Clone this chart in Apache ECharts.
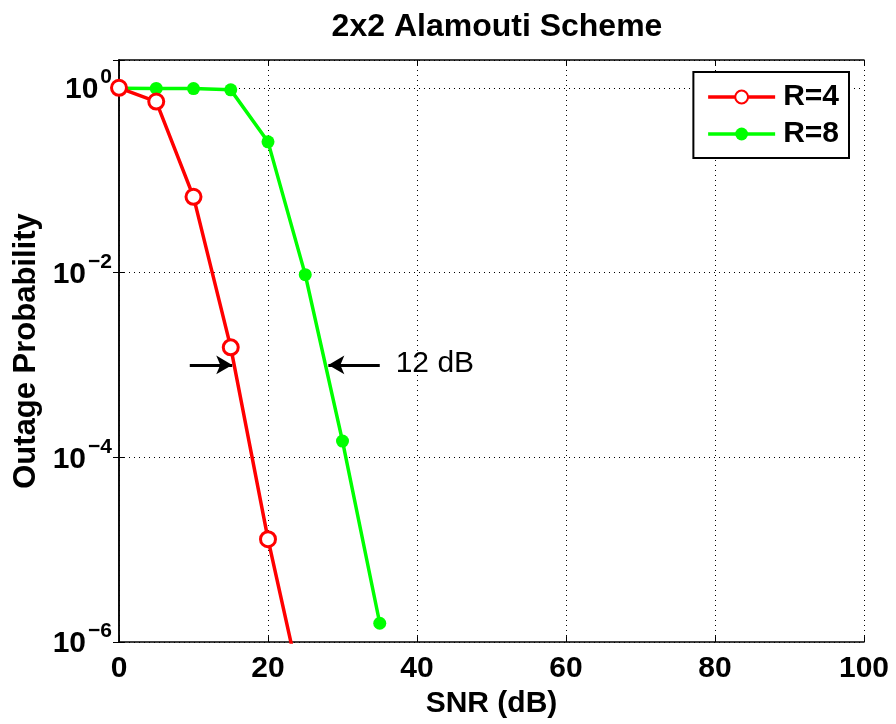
<!DOCTYPE html>
<html>
<head>
<meta charset="utf-8">
<script src="https://cdn.jsdelivr.net/npm/echarts@6/dist/echarts.min.js"></script>
<style>
  html, body { margin: 0; padding: 0; background: #fff; }
  #chart { width: 896px; height: 724px; }
</style>
</head>
<body>
<div id="chart"></div>
<script>
// SNR values (dB) and outage probabilities
const snrR4 = [0, 5, 10, 15, 20, 25]
const probR4 = [1.0, 0.71, 0.066, 0.00155, 1.3e-5, 2e-7]
const snrR8 = [0, 5, 10, 15, 20, 25, 30, 35]
const probR8 = [0.99, 0.985, 0.98, 0.95, 0.26, 0.0095, 1.5e-4, 1.6e-6]
const seriesNames = ['R=4', 'R=8']
// annotation: arrows at the 1e-3 level showing the 12 dB gap
const arrowLeft = [[9.5, 1e-3], [15.2, 1e-3]]
const arrowRight = [[35.0, 1e-3], [28.1, 1e-3]]
const gapLabel = { text: '12 dB', at: [42.4, 1.02e-3] }

const FONT = '"Liberation Sans", Arial, sans-serif'

const chart = echarts.init(document.getElementById('chart'))

function pairs (xs, ys) {
  return xs.map((x, i) => [x, ys[i]])
}

// 10 with a superscript exponent, like MATLAB log tick labels
function expLabel (v) {
  const e = Math.round(Math.log10(v))
  return '{b|10}{s|' + (e < 0 ? '\u2212' + (-e) : e) + '}'
}

const dotted = { show: true, lineStyle: { color: '#000', type: [1, 4], width: 1 } }
const boldText = { fontFamily: FONT, fontWeight: 'bold', fontSize: 30, color: '#000' }

const option = {
  backgroundColor: '#fff',
  animation: false,
  title: {
    text: '2x2 Alamouti Scheme',
    left: 492,
    textAlign: 'center',
    top: 6,
    textStyle: Object.assign({}, boldText, { fontSize: 32 })
  },
  grid: { left: 119, right: 32, top: 60, bottom: 80 },
  legend: {
    data: seriesNames,
    orient: 'vertical',
    right: 47,
    top: 72,
    padding: [10, 10, 9, 13],
    itemWidth: 67,
    itemHeight: 16,
    itemGap: 7,
    borderColor: '#000',
    borderWidth: 2,
    borderRadius: 0,
    backgroundColor: '#fff',
    lineStyle: { width: 3.5 },
    textStyle: Object.assign({}, boldText, { padding: [0, 0, 0, 3] })
  },
  xAxis: [{
    type: 'value',
    min: 0,
    max: 100,
    interval: 20,
    name: 'SNR (dB)',
    nameLocation: 'middle',
    nameGap: 46,
    nameTextStyle: boldText,
    axisLine: { onZero: false, lineStyle: { color: '#000', width: 1.5 } },
    axisTick: { inside: true, length: 6, lineStyle: { color: '#000' } },
    axisLabel: Object.assign({}, boldText, { margin: 12 }),
    splitLine: dotted
  }, {
    type: 'value',
    position: 'top',
    min: 0,
    max: 100,
    interval: 20,
    axisLine: { show: true, lineStyle: { color: '#000', width: 1.5 } },
    axisTick: { inside: true, length: 6, lineStyle: { color: '#000' } },
    axisLabel: { show: false },
    splitLine: { show: false }
  }],
  yAxis: [{
    type: 'log',
    logBase: 10,
    min: 1e-6,
    max: 2,
    interval: 2,
    name: 'Outage Probability',
    nameLocation: 'middle',
    nameGap: 76,
    nameTextStyle: Object.assign({}, boldText, { fontSize: 31 }),
    axisLine: { show: true, lineStyle: { color: '#000', width: 1.5 } },
    axisTick: { inside: true, length: 6, lineStyle: { color: '#000' } },
    axisLabel: {
      margin: 7,
      padding: [4, 0, 0, 0],
      formatter: function (v) {
        const e = Math.log10(v)
        if (Math.abs(e - Math.round(e)) > 1e-6) return ''
        return expLabel(v)
      },
      rich: {
        b: { fontFamily: FONT, fontWeight: 'bold', fontSize: 30, lineHeight: 30, color: '#000', verticalAlign: 'bottom' },
        s: { fontFamily: FONT, fontWeight: 'bold', fontSize: 21, lineHeight: 21, color: '#000', verticalAlign: 'bottom', padding: [0, 0, 17, 2] }
      }
    },
    splitLine: dotted
  }, {
    type: 'log',
    logBase: 10,
    position: 'right',
    min: 1e-6,
    max: 2,
    interval: 2,
    axisLine: { show: true, lineStyle: { color: '#000', width: 1.5 } },
    axisTick: { inside: true, length: 6, lineStyle: { color: '#000' } },
    axisLabel: { show: false },
    splitLine: { show: false }
  }],
  series: [{
    name: seriesNames[0],
    type: 'line',
    data: pairs(snrR4, probR4),
    clip: true,
    symbol: 'circle',
    symbolSize: 15,
    lineStyle: { color: '#ff0000', width: 3.5 },
    itemStyle: { color: '#fff', borderColor: '#ff0000', borderWidth: 3 },
    z: 3,
    markLine: {
      silent: true,
      symbol: ['none', 'arrow'],
      symbolSize: [14, 16],
      label: { show: false },
      lineStyle: { color: '#000', width: 3, type: 'solid' },
      data: [
        [{ coord: arrowLeft[0] }, { coord: arrowLeft[1] }],
        [{ coord: arrowRight[0] }, { coord: arrowRight[1] }]
      ]
    },
    markPoint: {
      silent: true,
      symbol: 'circle',
      symbolSize: 0,
      label: {
        show: true,
        position: 'inside',
        formatter: gapLabel.text,
        fontFamily: FONT,
        fontSize: 30,
        color: '#000'
      },
      data: [{ coord: gapLabel.at }]
    }
  }, {
    name: seriesNames[1],
    type: 'line',
    data: pairs(snrR8, probR8),
    clip: true,
    symbol: 'circle',
    symbolSize: 13,
    lineStyle: { color: '#00ff00', width: 3.5 },
    itemStyle: { color: '#00ff00', borderColor: '#00ff00', borderWidth: 0 },
    z: 2
  }]
}

chart.setOption(option)
</script>
</body>
</html>
